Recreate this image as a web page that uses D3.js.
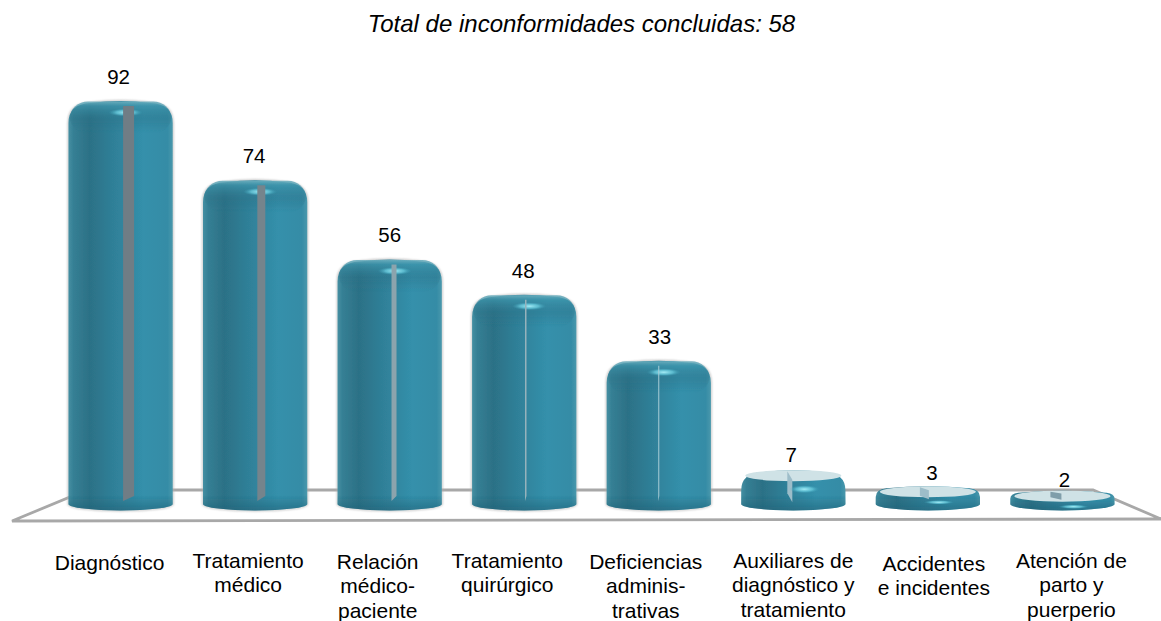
<!DOCTYPE html>
<html><head><meta charset="utf-8">
<script src="https://cdn.jsdelivr.net/npm/d3@7"></script>
<style>html,body{margin:0;background:#fff}svg{display:block}text{font-family:"Liberation Sans",Arial,sans-serif;fill:#000}</style>
</head><body><svg id="c" width="1161" height="621"></svg>
<script>
const titleText = "Total de inconformidades concluidas: 58";
const categories = ["Diagnóstico","Tratamiento médico","Relación médico-paciente","Tratamiento quirúrgico","Deficiencias adminis-trativas","Auxiliares de diagnóstico y tratamiento","Accidentes e incidentes","Atención de parto y puerperio"];
const labelLines = [["Diagnóstico"],["Tratamiento","médico"],["Relación","médico-","paciente"],["Tratamiento","quirúrgico"],["Deficiencias","adminis-","trativas"],["Auxiliares de","diagnóstico y","tratamiento"],["Accidentes","e incidentes"],["Atención de","parto y","puerperio"]];
const values = [92,74,56,48,33,7,3,2];
// layout nudges, not data
const labelDx = [-11,-7,-12,-17,-13,0,6,9];
const labelDy = [1,-1,0,-1,0,-1,2,-1];
const valueDx = [-2,-1,0,-1,1,-2,4,2];

const svg=d3.select("#c");
const x=d3.scaleBand().domain(categories).range([55,1128]).paddingInner(0.225).paddingOuter(0.1);
const y=d3.scaleLinear().domain([0,92]).range([506,101]);
const stripeW=d3.scaleLinear().domain([33,48,56,74,92]).range([1,1.5,5,8,11]);
const baseY=504, bry=6.5, bw=x.bandwidth();

const defs=svg.append("defs");
const g1=defs.append("linearGradient").attr("id","body");
[[0,"#458fa2"],[.05,"#357f94"],[.2,"#2c7186"],[.42,"#2f7f97"],[.72,"#3490ab"],[.95,"#358ca6"],[1,"#4a98ac"]].forEach(s=>g1.append("stop").attr("offset",s[0]).attr("stop-color",s[1]));
const g2=defs.append("linearGradient").attr("id","cap").attr("x1",0).attr("x2",0).attr("y1",0).attr("y2",1);
[[0,"#6fb0bf",.9],[.14,"#3f96ac",.7],[.55,"#2a6f85",.35],[1,"#2a6f85",0]].forEach(s=>g2.append("stop").attr("offset",s[0]).attr("stop-color",s[1]).attr("stop-opacity",s[2]));
const g4=defs.append("linearGradient").attr("id","foot").attr("x1",0).attr("x2",0).attr("y1",0).attr("y2",1);
[[0,"#1f5f74",0],[1,"#1f5f74",.55]].forEach(s=>g4.append("stop").attr("offset",s[0]).attr("stop-color",s[1]).attr("stop-opacity",s[2]));
const g3=defs.append("radialGradient").attr("id","hl");
[[0,"#a5edf7",1],[.55,"#6cd0e2",.7],[1,"#3fa0b8",0]].forEach(s=>g3.append("stop").attr("offset",s[0]).attr("stop-color",s[1]).attr("stop-opacity",s[2]));
defs.append("filter").attr("id","soft").append("feGaussianBlur").attr("stdDeviation",.6);
defs.append("filter").attr("id","shadow").attr("x","-10%").attr("width","120%").append("feGaussianBlur").attr("stdDeviation",1);

// floor
const floorPts=[[12,521],[87,490],[1093,490],[1161,519]];
svg.append("path").attr("d",d3.line()(floorPts)+"Z").attr("fill","none").attr("stroke","#a8a8a8").attr("stroke-width",2.8).attr("filter","url(#soft)");

svg.append("text").attr("x",581.5).attr("y",32).attr("text-anchor","middle").attr("font-size",24).attr("font-style","italic").text(titleText);

function barPath(d){
  const l=x(d.c), r=l+bw, cx=(l+r)/2;
  const t=d.top, corner=Math.min(22,(baseY-t)*.6), rx=bw/2;
  return `M${l},${baseY} L${l},${t+corner} Q${l},${t+3} ${l+corner},${t+2} Q${cx},${t-2} ${r-corner},${t+2} Q${r},${t+3} ${r},${t+corner} L${r},${baseY} A${rx},${bry} 0 0 1 ${l},${baseY}Z`;
}
const data=categories.map((c,i)=>({c,i,v:values[i],top:y(values[i])-(values[i]<10?(values[i]<5?6.5:5):0),small:values[i]<10}));
const bars=svg.selectAll("g.bar").data(data).join("g").attr("class","bar");
const cxOf=d=>x(d.c)+bw/2;
bars.filter(d=>!d.small).append("path").attr("d",barPath).attr("fill","none").attr("stroke","#b0b0b0").attr("stroke-width",1.4).attr("filter","url(#shadow)");
bars.append("path").attr("d",barPath).attr("fill","url(#body)").attr("filter","url(#soft)");
// top sheen for tall bars
bars.filter(d=>!d.small).append("rect").attr("x",d=>x(d.c)+1.5).attr("width",bw-3)
  .attr("y",d=>d.top+.5).attr("height",32).attr("rx",18).attr("fill","url(#cap)").attr("filter","url(#soft)");
// foot shade
bars.append("path").attr("d",d=>{
  const l=x(d.c),r=l+bw,t=Math.max(d.top+8,baseY-9);
  return `M${l},${t} L${r},${t} L${r},${baseY} A${bw/2},${bry} 0 0 1 ${l},${baseY}Z`;
}).attr("fill","url(#foot)").attr("filter","url(#soft)");
// highlight
bars.filter(d=>!d.small).append("ellipse").attr("cx",d=>cxOf(d)+5).attr("cy",d=>d.top+11.5).attr("rx",17).attr("ry",4).attr("fill","url(#hl)");
// stripes
bars.filter(d=>!d.small).append("path").attr("d",d=>{
  const cx=cxOf(d)+6*(d.v-33)/59+(d.v>50?2:0), w=stripeW(d.v), t=d.top+5;
  return `M${cx-w/2},${t} L${cx+w/2},${t} L${cx+w/2},${baseY-8} L${cx-w/2},${baseY-3}Z`;
}).attr("fill",d=>d3.interpolateRgb("#a9ccd6","#707d85")(Math.min(1,(d.v-33)/45))).attr("filter","url(#soft)");

// disks: pale top face
const disks=bars.filter(d=>d.small);
disks.append("ellipse").attr("cx",cxOf).attr("cy",d=>d.top+5.5)
  .attr("rx",bw/2-4).attr("ry",5.5).attr("fill","#cfe2e6").attr("filter","url(#soft)");
disks.append("path").attr("d",d=>{
  const w=d.v>5?5:(d.v>2?9:11), cx=cxOf(d)-(d.v>2?3.5:6.5);
  const h=d.v>5?32:(d.v>2?13:9);
  return `M${cx-w/2},${d.top+1} L${cx+w/2},${d.top+h*.3} L${cx+w/2},${d.top+h} L${cx-w/2},${d.top+h*.72}Z`;
}).attr("fill",d=>d.v>2?"#9dbdc9":"#7f9eaa").attr("filter","url(#soft)");
disks.append("ellipse").attr("cx",d=>cxOf(d)+11).attr("cy",d=>d.top+(d.v>5?19:16)).attr("rx",15).attr("ry",d=>d.v>5?4:2.2).attr("fill","url(#hl)");

// value labels
const liftOf=d=>d.small?(d.v>5?8:(d.v>2?6:4)):17;
svg.selectAll("text.v").data(data).join("text").attr("class","v")
  .attr("x",d=>cxOf(d)+valueDx[d.i]).attr("y",d=>d.top-liftOf(d)).attr("text-anchor","middle").attr("font-size",20.5).text(d=>d.v);

// category labels
const labs=svg.selectAll("text.l").data(data).join("text").attr("class","l").attr("text-anchor","middle").attr("font-size",21);
labs.each(function(d,i){
  d3.select(this).selectAll("tspan").data(labelLines[i]).join("tspan").attr("x",cxOf(d)+labelDx[i]).attr("y",(s,j)=>569+labelDy[i]+j*24.3).text(s=>s);
});
</script></body></html>
